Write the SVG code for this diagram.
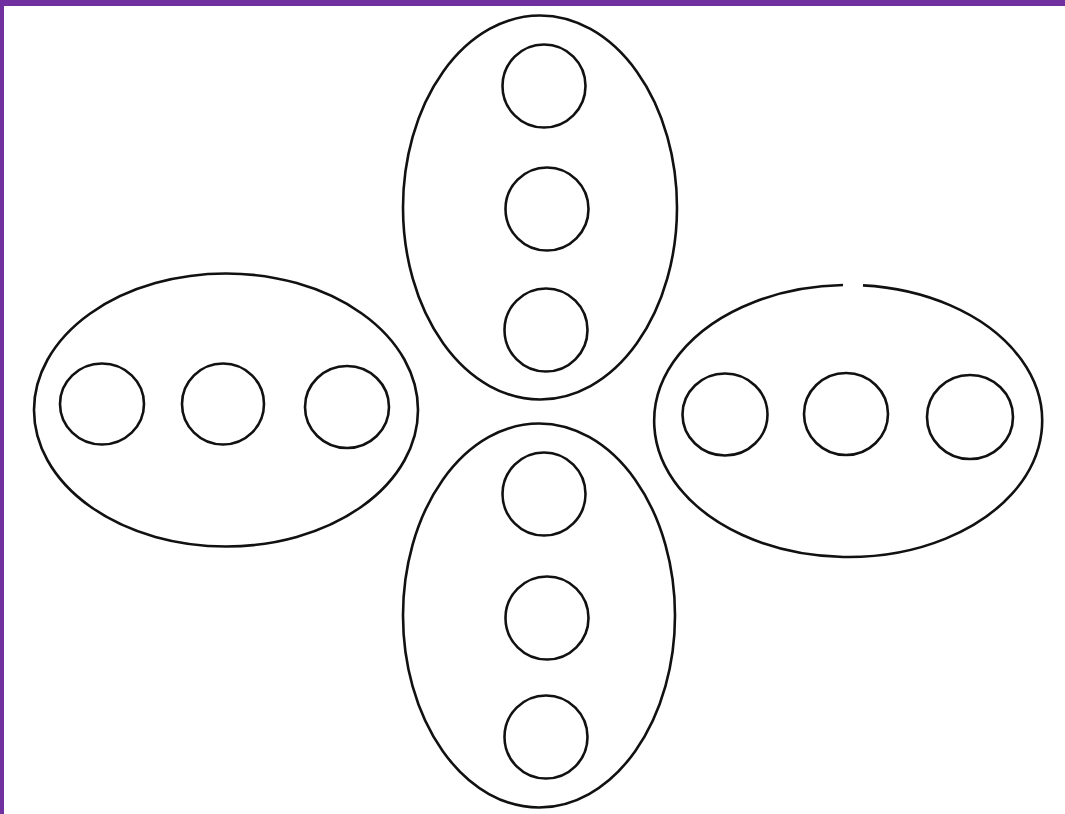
<svg xmlns="http://www.w3.org/2000/svg" width="1065" height="814" viewBox="0 0 1065 814">
<style>
.outer{fill:none;stroke:#111;stroke-width:2.6}
.inner{fill:none;stroke:#111;stroke-width:2.6}
.border{fill:#7030A0}
</style>
<rect x="0" y="0" width="1065" height="814" fill="#fff"/>
<rect class="border" x="0" y="0" width="1065" height="6"/>
<rect class="border" x="0" y="0" width="4" height="814"/>
<g id="top">
<ellipse class="outer" cx="540" cy="207.5" rx="137" ry="192"/>
<circle class="inner" cx="544" cy="86" r="41.5"/>
<circle class="inner" cx="547" cy="209" r="41.5"/>
<circle class="inner" cx="546" cy="330" r="41.5"/>
</g>
<g id="bottom">
<ellipse class="outer" cx="539" cy="615.5" rx="136" ry="192"/>
<circle class="inner" cx="544" cy="494" r="41.5"/>
<circle class="inner" cx="547" cy="618" r="41.5"/>
<circle class="inner" cx="546" cy="737" r="41.5"/>
</g>
<g id="left">
<ellipse class="outer" cx="226" cy="410" rx="192" ry="136.5"/>
<ellipse class="inner" cx="102" cy="404" rx="42" ry="40.5"/>
<ellipse class="inner" cx="223" cy="404" rx="41" ry="40.5"/>
<ellipse class="inner" cx="347" cy="407" rx="42" ry="41"/>
</g>
<g id="right">
<path class="outer" d="M 863 285.4 A 194 136 0 1 1 843 285.05"/>
<ellipse class="inner" cx="725" cy="414.5" rx="42.5" ry="41"/>
<ellipse class="inner" cx="846" cy="414" rx="42" ry="41"/>
<ellipse class="inner" cx="970" cy="417" rx="43" ry="42"/>
</g>
<g id="connectors"></g>
</svg>
